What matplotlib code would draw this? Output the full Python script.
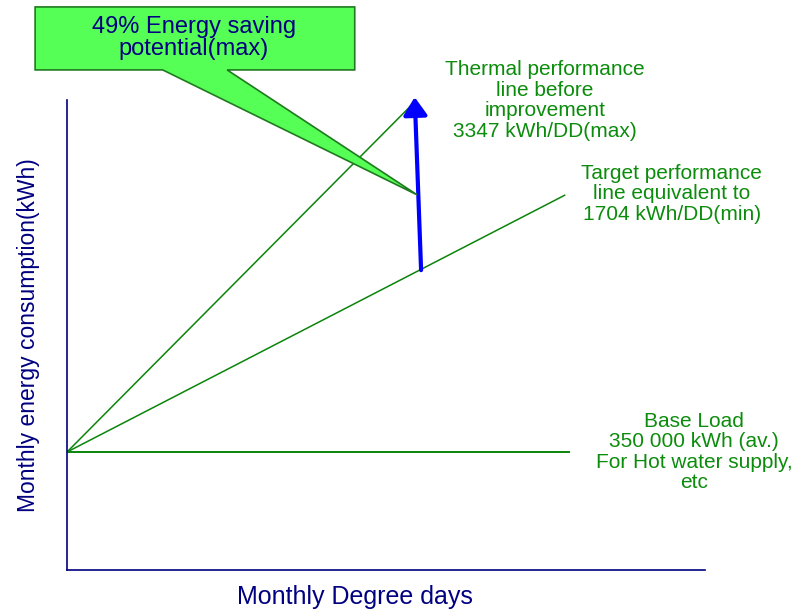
import matplotlib
matplotlib.use('Agg')
import matplotlib.pyplot as plt
from matplotlib.patches import Polygon

plt.rcParams['font.family'] = ['Liberation Sans', 'DejaVu Sans']

# schematic values (arbitrary units)
base_load = 25.1
dd_before = [0, 54.5]
kwh_before = [base_load, 99.6]
dd_target = [0, 78.1]
kwh_target = [base_load, 79.8]
dd_base = [0, 78.8]
kwh_base = [base_load, base_load]

arrow_dd = [55.5, 54.5]
arrow_kwh = [63.8, 100.6]

callout_x = [-5.0, 45.1, 45.1, 25.1, 54.9, 15.0, -5.0]
callout_y = [119.8, 119.8, 106.4, 106.4, 79.8, 106.4, 106.4]

line_green = '#0a840a'
text_green = '#0c8c0c'
navy = '#000080'

fig = plt.figure(figsize=(8.03, 6.11), dpi=100)
ax = fig.add_axes([67 / 803, 41 / 611, 638 / 803, 470 / 611])
ax.set_xlim(0, 100)
ax.set_ylim(0, 100)

ax.plot(dd_before, kwh_before, color=line_green, lw=1.1, solid_capstyle='butt')
ax.plot(dd_target, kwh_target, color=line_green, lw=1.1, solid_capstyle='butt')
ax.plot(dd_base, kwh_base, color=line_green, lw=1.4, solid_capstyle='butt')

ax.annotate('', xy=(arrow_dd[1], arrow_kwh[1]), xytext=(arrow_dd[0], arrow_kwh[0]),
            arrowprops=dict(arrowstyle='-|>,head_length=0.6,head_width=0.4',
                            mutation_scale=18, lw=3, color='#0000ff',
                            shrinkA=0, shrinkB=0),
            annotation_clip=False)

callout = Polygon(list(zip(callout_x, callout_y)), closed=True,
                  facecolor='#55ff55', edgecolor='#1f7a1f', lw=1.2, clip_on=False,
                  zorder=5)
ax.add_patch(callout)
ax.text(19.9, 113.2, '49% Energy saving\npotential(max)', ha='center', va='center',
        fontsize=17, color=navy, linespacing=1.05, zorder=6, clip_on=False)

ax.text(74.9, 99.9, 'Thermal performance\nline before\nimprovement\n3347 kWh/DD(max)',
        ha='center', va='center', fontsize=15, color=text_green, linespacing=1.1,
        clip_on=False)
ax.text(94.8, 80.0, 'Target performance\nline equivalent to\n1704 kWh/DD(min)',
        ha='center', va='center', fontsize=15, color=text_green, linespacing=1.1,
        clip_on=False)
ax.text(98.3, 25.1, 'Base Load\n350 000 kWh (av.)\nFor Hot water supply,\netc',
        ha='center', va='center', fontsize=15, color=text_green, linespacing=1.1,
        clip_on=False)

ax.text(0.451, -0.057, 'Monthly Degree days', transform=ax.transAxes,
        ha='center', va='center', fontsize=18, color=navy)
ax.text(-0.061, 0.5, 'Monthly energy consumption(kWh)', transform=ax.transAxes,
        ha='center', va='center', rotation=90, fontsize=16.5, color=navy)

for side in ['top', 'right']:
    ax.spines[side].set_visible(False)
for side in ['left', 'bottom']:
    ax.spines[side].set_color(navy)
    ax.spines[side].set_linewidth(1.2)
ax.set_xticks([])
ax.set_yticks([])

plt.savefig('out.png', dpi=100)
